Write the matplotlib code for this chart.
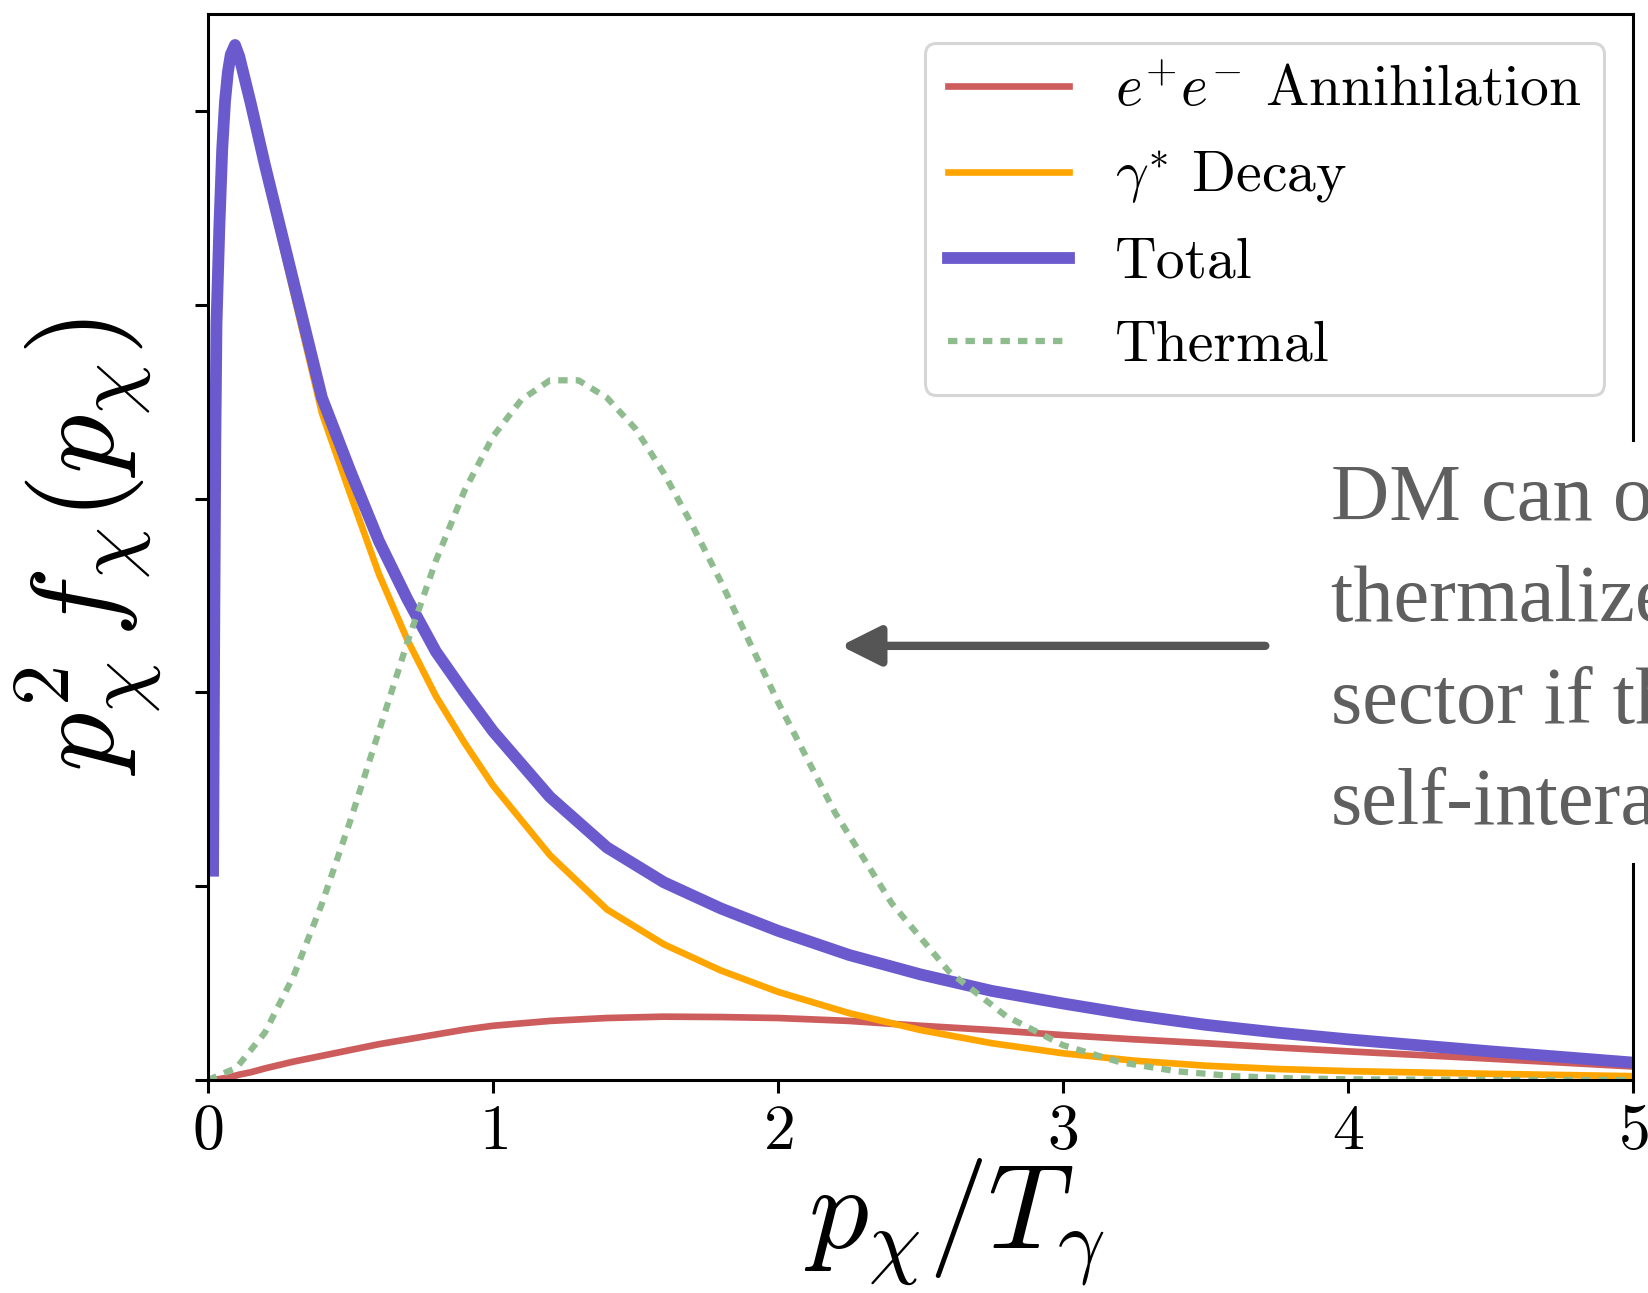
import numpy as np
import matplotlib
matplotlib.use("Agg")
import matplotlib.pyplot as plt

# momentum grid p_chi / T_gamma
p = [0.018, 0.022, 0.026, 0.03, 0.04, 0.05, 0.06, 0.07, 0.08, 0.095, 0.11,
     0.15, 0.2, 0.3, 0.4, 0.5, 0.6, 0.7, 0.8, 0.9, 1.0, 1.2, 1.4, 1.6, 1.8,
     2.0, 2.25, 2.5, 2.75, 3.0, 3.25, 3.5, 3.75, 4.0, 4.5, 5.0]

# e+e- annihilation
annihilation = [0.0, 0.001, 0.002, 0.003, 0.005, 0.008, 0.01, 0.013, 0.016, 0.022, 0.028,
                0.04, 0.06, 0.095, 0.125, 0.155, 0.185, 0.21, 0.235, 0.26, 0.28, 0.305,
                0.32, 0.327, 0.325, 0.32, 0.305, 0.28, 0.258, 0.232, 0.21, 0.19, 0.168,
                0.148, 0.11, 0.07]

# gamma* decay
decay = [1.08, 2.3, 3.3, 3.9, 4.39, 4.79, 5.04, 5.19, 5.27, 5.32, 5.25,
         5.01, 4.68, 4.06, 3.44, 3.02, 2.61, 2.27, 1.98, 1.74, 1.52, 1.16,
         0.88, 0.70, 0.565, 0.455, 0.345, 0.258, 0.19, 0.138, 0.10, 0.074, 0.057,
         0.046, 0.032, 0.02]

# total
total = [1.08, 2.3, 3.3, 3.9, 4.4, 4.8, 5.05, 5.2, 5.29, 5.34, 5.28,
         5.04, 4.72, 4.12, 3.52, 3.14, 2.78, 2.48, 2.21, 2.0, 1.80, 1.46,
         1.2, 1.02, 0.885, 0.77, 0.645, 0.545, 0.46, 0.395, 0.335, 0.285, 0.245,
         0.21, 0.148, 0.09]

# thermal distribution
p_th = [0.0, 0.1, 0.2, 0.3, 0.4, 0.5, 0.6, 0.7, 0.8, 0.9, 1.0, 1.1, 1.2, 1.3,
        1.4, 1.5, 1.6, 1.7, 1.8, 1.9, 2.0, 2.2, 2.4, 2.6, 2.8, 3.0, 3.2, 3.4,
        3.6, 3.8, 4.0, 4.5, 5.0]
thermal = [0.0, 0.063, 0.245, 0.535, 0.91, 1.34, 1.80, 2.26, 2.68, 3.04, 3.32,
           3.51, 3.61, 3.61, 3.52, 3.36, 3.13, 2.86, 2.57, 2.26, 1.95, 1.38,
           0.91, 0.56, 0.33, 0.18, 0.092, 0.045, 0.020, 0.009, 0.004, 0.0005, 0.0]

plt.rcParams['font.family'] = 'serif'
plt.rcParams['font.serif'] = ['cmr10']
plt.rcParams['mathtext.fontset'] = 'cm'
plt.rcParams['axes.formatter.use_mathtext'] = True

fig = plt.figure(figsize=(16.49, 12.93), dpi=100)
ax = fig.add_axes([0.1261, 0.1647, 0.8642, 0.8245])

ax.plot(p, annihilation, color='indianred', lw=4.8, label=r'$e^{+}e^{-}$ Annihilation')
ax.plot(p, decay, color='orange', lw=4.8, label=r'$\gamma^{*}$ Decay')
ax.plot(p, total, color='slateblue', lw=8.5, label='Total')
ax.plot(p_th, thermal, color='darkseagreen', lw=4.5, linestyle=(0, (1.5, 1.3)),
        label='Thermal')

ax.set_xlim(0, 5)
ax.set_ylim(0, 5.5)
ax.set_xticks([0, 1, 2, 3, 4, 5])
ax.set_yticks([0, 1, 2, 3, 4, 5])
ax.set_yticklabels([])
ax.tick_params(direction='out', length=9.5, width=2.2, labelsize=46, pad=8)
for s in ax.spines.values():
    s.set_linewidth(2.2)

ax.set_xlabel(r'$p_\chi/T_\gamma$', fontsize=86)
ax.set_ylabel(r'$p_\chi^2\, f_\chi(p_\chi)$', fontsize=85)
ax.xaxis.set_label_coords(0.524, -0.072)
ax.yaxis.set_label_coords(-0.031, 0.5)

leg = ax.legend(loc='upper right', fontsize=41.5, handlelength=2.1,
                labelspacing=0.55)
leg.get_frame().set_linewidth(2.2)

ax.annotate('', xy=(2.22, 2.24), xytext=(3.71, 2.24),
            arrowprops=dict(arrowstyle='-|>,head_length=0.6,head_width=0.3',
                            lw=6, color='#555555', mutation_scale=40,
                            shrinkA=0, shrinkB=0))
ax.text(3.94, 2.205, "DM can only\nthermalize in its own\nsector if there are\nself-interactions",
        family='Liberation Serif', fontsize=58, color='#5f5f5f', ha='left', va='center',
        linespacing=1.51, clip_on=False,
        bbox=dict(boxstyle='square,pad=0.27', fc='white', ec='none'))

fig.savefig('out.png', dpi=100)
